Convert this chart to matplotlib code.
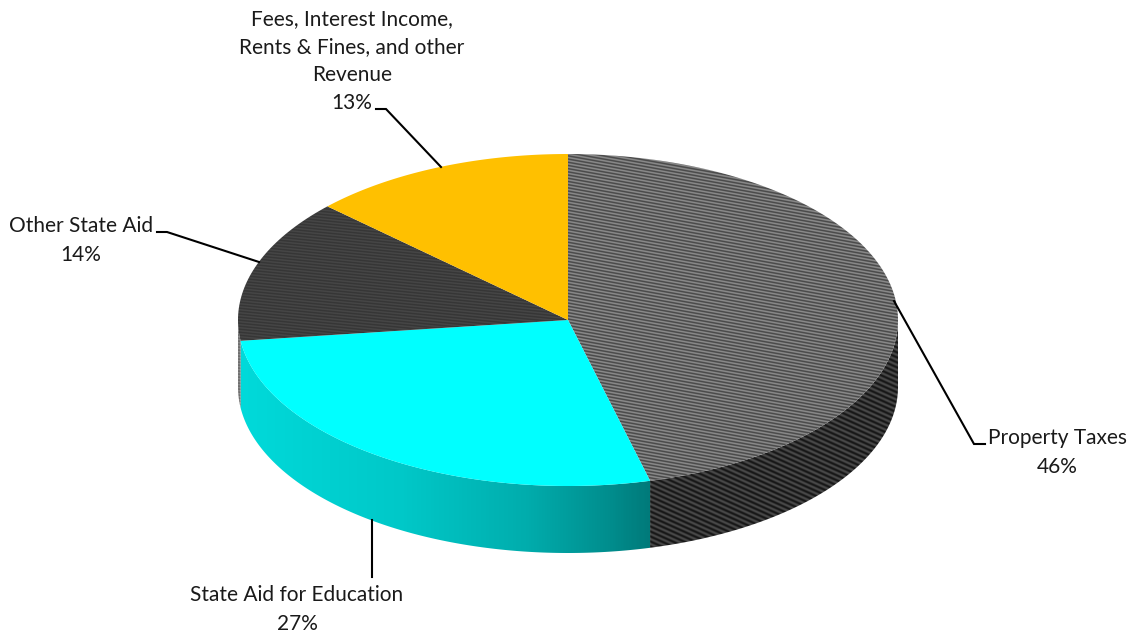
import numpy as np
import matplotlib
matplotlib.use("Agg")
import matplotlib.pyplot as plt
from matplotlib.colors import LinearSegmentedColormap, to_rgb
from matplotlib.patches import Polygon

categories = ["Property Taxes", "State Aid for Education", "Other State Aid",
              "Fees, Interest Income,\nRents & Fines, and other\nRevenue"]
shares = [46, 27, 14, 13]

WIDTH, HEIGHT = 1132, 635
CX, CY, RX, RY, DEPTH = 568, 320, 330, 166, 67

fig = plt.figure(figsize=(WIDTH / 100, HEIGHT / 100), dpi=100)
ax = fig.add_axes([0, 0, 1, 1])
ax.set_xlim(0, WIDTH)
ax.set_ylim(HEIGHT, 0)
ax.axis("off")

yy, xx = np.mgrid[0:HEIGHT, 0:WIDTH] + 0.5


def rim(theta):
    """Screen position on the top ellipse; theta in degrees clockwise from twelve o'clock."""
    t = np.radians(theta)
    return CX + RX * np.sin(t), CY - RY * np.cos(t)


def stripes(dark, light, period, slope):
    """RGB raster of fine diagonal bands used as the slice fill."""
    wave = 0.5 + 0.5 * np.sin(2 * np.pi * (yy - slope * xx) / period)
    wave = wave[..., None]
    return np.array(to_rgb(dark)) * (1 - wave) + np.array(to_rgb(light)) * wave


def textured(poly_pts, image, z):
    patch = Polygon(poly_pts, closed=True, facecolor="none", edgecolor="none",
                    transform=ax.transData)
    ax.add_patch(patch)
    im = ax.imshow(image, extent=(0, WIDTH, HEIGHT, 0), interpolation="nearest",
                   aspect="auto", zorder=z)
    im.set_clip_path(patch)


def top_poly(a, b):
    th = np.linspace(a, b, 200)
    x, y = rim(th)
    return np.vstack([[CX, CY], np.column_stack([x, y])])


def side_poly(a, b):
    th = np.linspace(a, b, 200)
    x, y = rim(th)
    upper = np.column_stack([x, y])
    lower = np.column_stack([x, y + DEPTH])[::-1]
    return np.vstack([upper, lower])


edges = np.concatenate([[0], np.cumsum(shares)]) * 3.6

# Fills for the four slices
top_fills = [
    stripes("#4a4a4a", "#8a8a8a", 3.2, 0.18),
    np.ones((HEIGHT, WIDTH, 3)) * np.array(to_rgb("#00FFFF")),
    stripes("#363636", "#464646", 3.0, 0.10),
    np.ones((HEIGHT, WIDTH, 3)) * np.array(to_rgb("#FFC000")),
]
for i in range(4):
    textured(top_poly(edges[i], edges[i + 1]), top_fills[i], 3)

# Wall of the disc: only the part facing the viewer (90 to 270 degrees)
ramp = LinearSegmentedColormap.from_list(
    "wall", [(0.0, "#00DADA"), (0.40, "#00C8C8"), (0.70, "#00ADAD"),
             (0.90, "#008E8E"), (1.0, "#007A7A")])
x_a, _ = rim(edges[1])
x_b = CX - RX
wall_cyan = ramp(np.clip((xx - x_b) / (x_a - x_b), 0, 1))[..., :3]
wall_fills = [
    stripes("#161616", "#4a4a4a", 5.0, 0.45),
    wall_cyan,
    stripes("#6a6a6a", "#8a8a8a", 3.0, 0.10),
]
for i in range(3):
    a = max(edges[i], 90)
    b = min(edges[i + 1], 270)
    if b > a:
        textured(side_poly(a, b), wall_fills[i], 2)

# Leader lines
leaders = [
    ([894, 974, 985], [301, 444, 444]),
    ([372, 372], [520, 577]),
    ([259, 167, 157], [262, 232, 232]),
    ([441, 386, 376], [167, 109, 109]),
]
for lx, ly in leaders:
    ax.plot(lx, ly, color="black", lw=1.5, solid_joinstyle="miter", zorder=4)

# Category labels with their percentages
label_xy = [(1057, 452.5), (297, 609.5), (81, 240.5), (352, 61)]
for name, share, (tx, ty) in zip(categories, shares, label_xy):
    ax.text(tx, ty, f"{name}\n{share}%", ha="center", va="center", ma="center",
            family="Lato", fontsize=15, color="#1a1a1a", linespacing=1.51, zorder=5)

fig.savefig("out.png", dpi=100)
